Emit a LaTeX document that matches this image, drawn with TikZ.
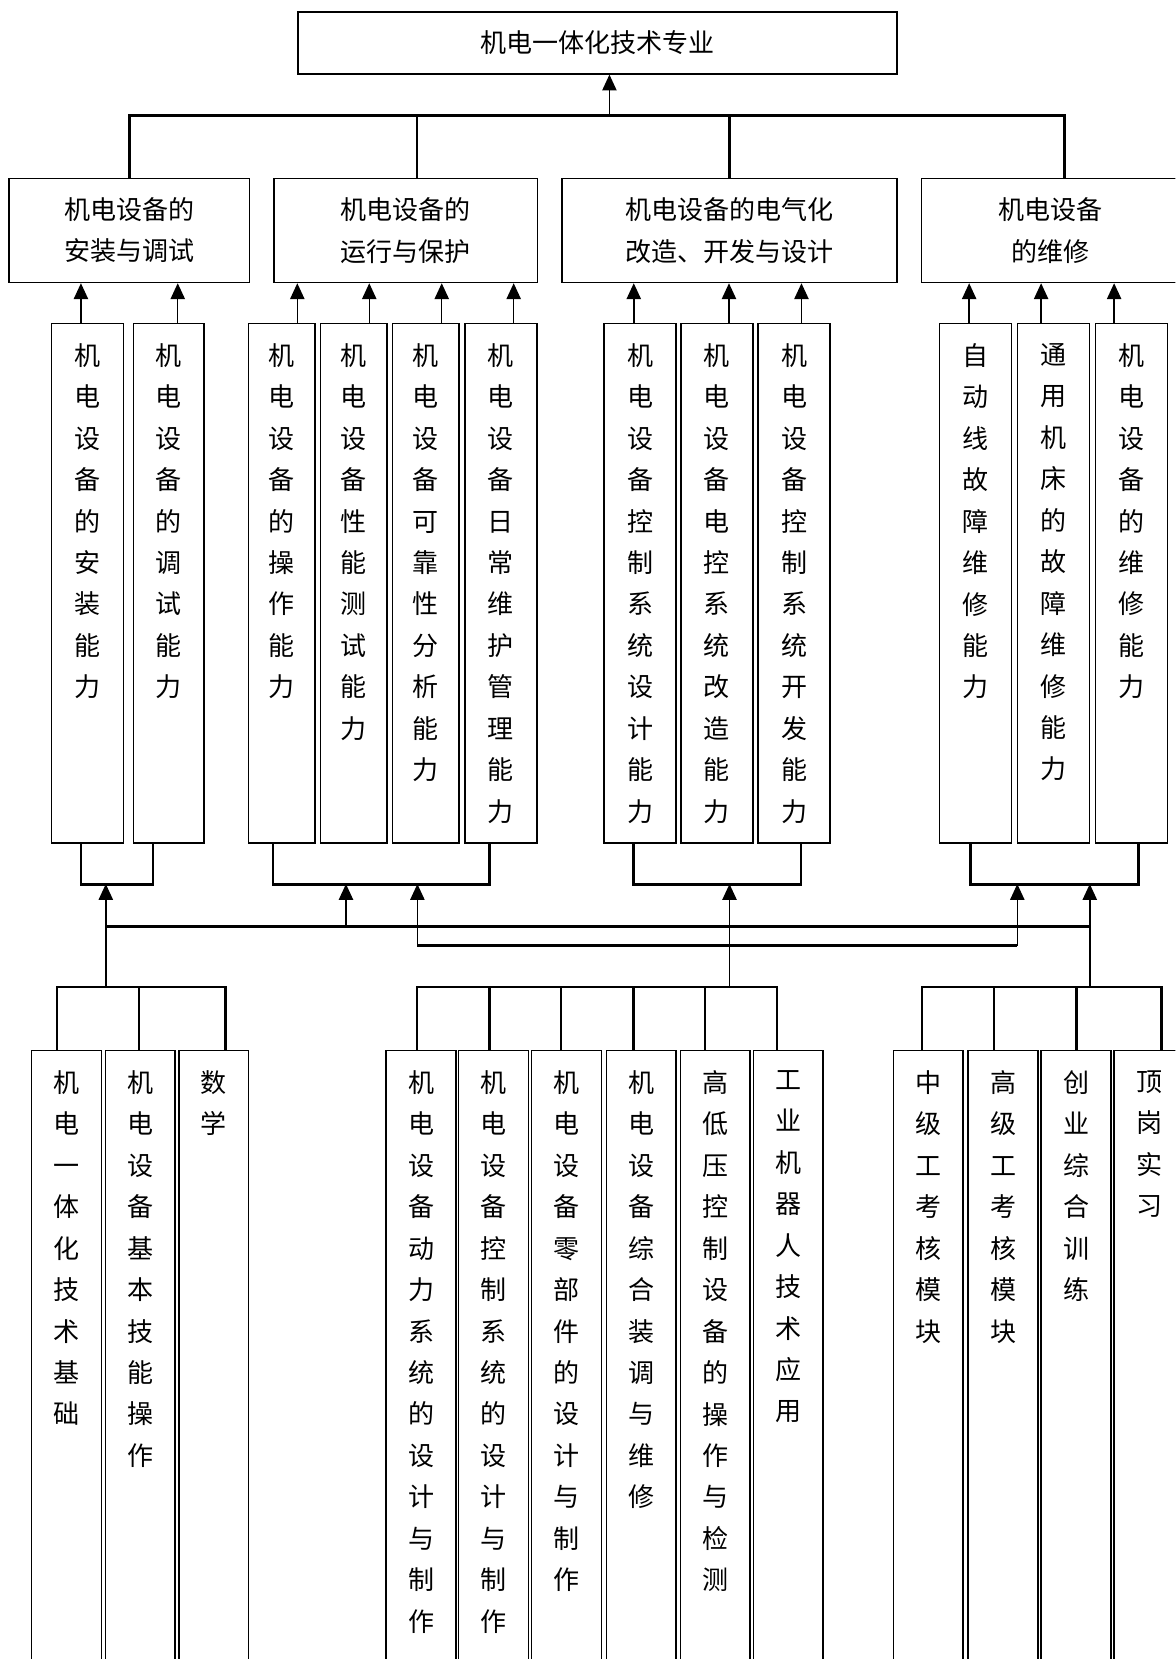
\documentclass[tikz,border=0pt]{standalone}
\usepackage{fontspec}
\newfontfamily\cjk{Noto Sans CJK SC}
\usetikzlibrary{arrows.meta, calc}
\newcommand{\vcol}[2]{\parbox[c][#1][t]{1.1cm}{\centering\vspace*{0.38cm}#2}}

\begin{document}
\begin{tikzpicture}[x=0.02cm, y=-0.02cm,
		every node/.style={font=\cjk\fontsize{14pt}{22.3pt}\selectfont},
		major/.style={draw, line width=1pt, minimum width=11.33cm, minimum height=1.16cm},
		area/.style={draw, line width=0.8pt, minimum height=1.97cm, align=center},
		skill/.style={draw, line width=0.8pt, inner sep=0pt, minimum width=1.36cm},
		course/.style={draw, line width=0.8pt, inner sep=0pt, minimum width=1.32cm, anchor=north},
		bus/.style={line width=1.4pt},
		arr/.style={line width=0.8pt, -{Triangle[length=0.3cm, width=0.27cm]}}
		]
		\useasboundingbox (0,0) rectangle (1111,1568);
		\clip (0,0) rectangle (1111,1568);
		
		% --- Major ---
		\node[major] (Prof) at (564.75,40.65) {机电一体化技术专业};
		
		% --- Job areas ---
		\node[area, minimum width=4.55cm] (L2a) at (122.25,217.75) {机电设备的\\安装与调试};
		\node[area, minimum width=4.98cm] (L2b) at (383.5,217.75) {机电设备的\\运行与保护};
		\node[area, minimum width=6.34cm] (L2c) at (689.5,217.75) {机电设备的电气化\\改造、开发与设计};
		\node[area, minimum width=4.88cm] (L2d) at (993,217.75) {机电设备\\的维修};
		
		% --- Abilities ---
		\node[skill] (C11) at (82.5,551.25) {\vcol{9.83cm}{机\\电\\设\\备\\的\\安\\装\\能\\力}};
		\node[skill, minimum width=1.34cm] (C12) at (159.5,551.25) {\vcol{9.83cm}{机\\电\\设\\备\\的\\调\\试\\能\\力}};
		\node[skill, minimum width=1.26cm] (C21) at (266.3,551.25) {\vcol{9.83cm}{机\\电\\设\\备\\的\\操\\作\\能\\力}};
		\node[skill, minimum width=1.26cm] (C22) at (334.5,551.25) {\vcol{9.83cm}{机\\电\\设\\备\\性\\能\\测\\试\\能\\力}};
		\node[skill, minimum width=1.26cm] (C23) at (402.5,551.25) {\vcol{9.83cm}{机\\电\\设\\备\\可\\靠\\性\\分\\析\\能\\力}};
		\node[skill] (C24) at (473.5,551.25) {\vcol{9.83cm}{机\\电\\设\\备\\日\\常\\维\\护\\管\\理\\能\\力}};
		\node[skill] (C31) at (605,551.25) {\vcol{9.83cm}{机\\电\\设\\备\\控\\制\\系\\统\\设\\计\\能\\力}};
		\node[skill] (C32) at (677.5,551.25) {\vcol{9.83cm}{机\\电\\设\\备\\电\\控\\系\\统\\改\\造\\能\\力}};
		\node[skill] (C33) at (750.5,551.25) {\vcol{9.83cm}{机\\电\\设\\备\\控\\制\\系\\统\\开\\发\\能\\力}};
		\node[skill] (C41) at (922,551.25) {\vcol{9.83cm}{自\\动\\线\\故\\障\\维\\修\\能\\力}};
		\node[skill] (C42) at (995.5,551.25) {\vcol{9.83cm}{通\\用\\机\\床\\的\\故\\障\\维\\修\\能\\力}};
		\node[skill] (C43) at (1069.5,551.25) {\vcol{9.83cm}{机\\电\\设\\备\\的\\维\\修\\能\\力}};
		
		% --- Courses ---
		\node[course] (B11) at (62.75,992) {\vcol{12.56cm}{机\\电\\一\\体\\化\\技\\术\\基\\础}};
		\node[course] (B12) at (132.5,992) {\vcol{12.56cm}{机\\电\\设\\备\\基\\本\\技\\能\\操\\作}};
		\node[course] (B13) at (202,992) {\vcol{12.56cm}{数\\学}};
		\node[course] (B21) at (398,992) {\vcol{12.56cm}{机\\电\\设\\备\\动\\力\\系\\统\\的\\设\\计\\与\\制\\作}};
		\node[course] (B22) at (466.5,992) {\vcol{12.56cm}{机\\电\\设\\备\\控\\制\\系\\统\\的\\设\\计\\与\\制\\作}};
		\node[course] (B23) at (535.3,992) {\vcol{12.56cm}{机\\电\\设\\备\\零\\部\\件\\的\\设\\计\\与\\制\\作}};
		\node[course] (B24) at (606,992) {\vcol{12.56cm}{机\\电\\设\\备\\综\\合\\装\\调\\与\\维\\修}};
		\node[course] (B25) at (676,992) {\vcol{12.56cm}{高\\低\\压\\控\\制\\设\\备\\的\\操\\作\\与\\检\\测}};
		\node[course] (B26) at (745,992) {\vcol{12.56cm}{工\\业\\机\\器\\人\\技\\术\\应\\用}};
		\node[course] (B31) at (877.3,992) {\vcol{12.56cm}{中\\级\\工\\考\\核\\模\\块}};
		\node[course] (B32) at (948,992) {\vcol{12.56cm}{高\\级\\工\\考\\核\\模\\块}};
		\node[course] (B33) at (1017,992) {\vcol{12.56cm}{创\\业\\综\\合\\训\\练}};
		\node[course] (B34) at (1086,992) {\vcol{12.56cm}{顶\\岗\\实\\习}};
		
		% --- Areas to major ---
		\coordinate (hub) at (576,110);
		\draw[bus] (L2a.north) |- ($(L2d.north)+(13,-58.5)$) -- ($(L2d.north)+(13,0)$);
		\draw[bus] ($(L2b.north)+(10.5,0)$) -- ++(0,-58.5);
		\draw[bus] (L2c.north) -- ++(0,-58.5);
		\draw[arr] (hub) -- (hub |- Prof.south);
		
		% --- Abilities to areas ---
		\foreach \cell/\area/\dx in {C11/L2a/-6, C12/L2a/8.5, C21/L2b/14.7, C22/L2b/14.5,
			C23/L2b/15, C24/L2b/12, C31/L2c/-6, C32/L2c/11.5, C33/L2c/7,
			C41/L2d/-6, C42/L2d/-11.5, C43/L2d/-16.5}
		\draw[arr] ($(\cell.north)+(\dx,0)$) coordinate (s) -- (s |- \area.south);
		
		% --- Ability groups ---
		\draw[bus] ($(C11.south)+(-6,0)$) -- ++(0,38.5) -| ($(C12.south)+(-15,0)$);
		\draw[bus] ($(C21.south)+(-8.3,0)$) -- ++(0,38.5) -| ($(C24.south)+(-11,0)$);
		\draw[bus] ($(C31.south)+(-6.5,0)$) -- ++(0,38.5) -| ($(C33.south)+(6.5,0)$);
		\draw[bus] ($(C41.south)+(-5,0)$) -- ++(0,38.5) -| ($(C43.south)+(6.5,0)$);
		
		% --- Courses to abilities ---
		\coordinate (k1) at (100,835.5);
		\coordinate (k2) at (327,835.5);
		\coordinate (k3) at (394.5,835.5);
		\coordinate (k4) at (689.5,835.5);
		\coordinate (k5) at (961.5,835.5);
		\coordinate (k6) at (1030,835.5);
		\coordinate (m1) at (100,933);
		\coordinate (m2) at (689.5,933);
		\coordinate (m3) at (1030,933);
		\coordinate (u1) at (100,875.5);
		\coordinate (u2) at (1030,875.5);
		\coordinate (w1) at (394.5,893.7);
		\coordinate (w2) at (961.5,893.7);
		\draw[bus] (u1) -- (u2);
		\draw[bus] (w1) -- (w2);
		\draw[arr] (m1) -- (k1);
		\draw[arr] (m2) -- (k4);
		\draw[arr] (m3) -- (k6);
		\draw[arr] (u1 -| k2) -- (k2);
		\draw[arr] (w1) -- (k3);
		\draw[arr] (w2) -- (k5);
		
		% --- Course groups ---
		\draw[bus] ($(B11.north)+(-8.75,0)$) -- ++(0,-59) -| ($(B13.north)+(11,0)$);
		\draw[bus] ($(B12.north)+(-1,0)$) -- ++(0,-59);
		\draw[bus] ($(B21.north)+(-4,0)$) -- ++(0,-59) -| ($(B26.north)+(-10.7,0)$);
		\foreach \cell/\dx in {B22/-4, B23/-5, B24/-7.5, B25/-9.6}
		\draw[bus] ($(\cell.north)+(\dx,0)$) -- ++(0,-59);
		\draw[bus] ($(B31.north)+(-6,0)$) -- ++(0,-59) -| ($(B34.north)+(12,0)$);
		\foreach \cell/\dx in {B32/-8.4, B33/0.5}
		\draw[bus] ($(\cell.north)+(\dx,0)$) -- ++(0,-59);
		
	\end{tikzpicture}
\end{document}
